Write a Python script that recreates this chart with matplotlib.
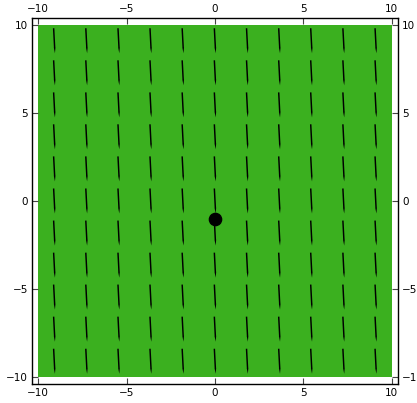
import numpy as np
import matplotlib
matplotlib.use("Agg")
import matplotlib.pyplot as plt
from matplotlib.patches import Rectangle

# grid of vector sample points (11 x 11)
grid_x = [-9.09, -7.27, -5.45, -3.64, -1.82, 0.0, 1.82, 3.64, 5.45, 7.27, 9.09]
grid_y = [-9.09, -7.27, -5.45, -3.64, -1.82, 0.0, 1.82, 3.64, 5.45, 7.27, 9.09]
# direction of every vector (same everywhere)
vec_u = 0.074
vec_v = -1.42
# marked point
point_x = [0.0]
point_y = [-1.0]
ticks = [-10, -5, 0, 5, 10]
region = (-10, 10)

fig = plt.figure(figsize=(4.17, 4.03), dpi=100)
ax = fig.add_axes([32/417, 1 - 384/403, (398 - 32)/417, (384 - 18)/403])
ax.set_xlim(-10.35, 10.35)
ax.set_ylim(-10.38, 10.38)

ax.add_patch(Rectangle((region[0], region[0]), region[1] - region[0], region[1] - region[0],
                       facecolor="#3bb01f", edgecolor="none", zorder=0))

X, Y = np.meshgrid(grid_x, grid_y)
U = np.full_like(X, vec_u)
V = np.full_like(Y, vec_v)
ax.quiver(X, Y, U, V, angles="xy", scale_units="xy", scale=1, pivot="middle",
          color="black", width=0.0040, headwidth=1.15, headlength=4, headaxislength=3.9,
          zorder=2)

ax.plot(point_x, point_y, "o", color="black", markersize=8.8, zorder=3)

ax.set_xticks(ticks)
ax.set_yticks(ticks)
ax.set_xticklabels([str(t).replace("-", "\u2212") for t in ticks])
ax.set_yticklabels([str(t).replace("-", "\u2212") for t in ticks])
ax.tick_params(direction="in", length=4, width=0.8, labelsize=7.5, color="#444444",
               top=True, right=True, labeltop=True, labelright=True, pad=3)
for s in ax.spines.values():
    s.set_linewidth(1.0)
    s.set_color("black")

fig.savefig("out.png", dpi=100)
